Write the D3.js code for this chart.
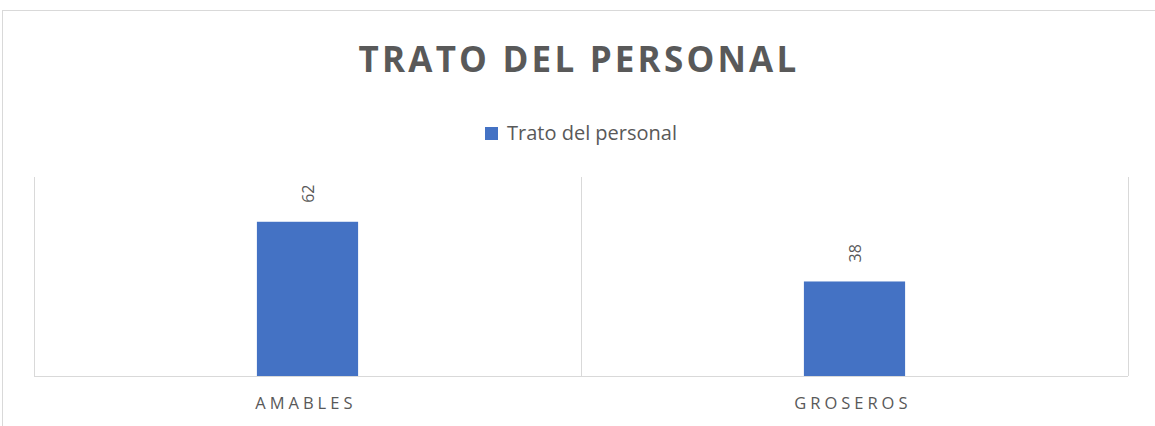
<!DOCTYPE html>
<html>
<head>
<meta charset="utf-8">
<script src="https://cdn.jsdelivr.net/npm/d3@7"></script>
<style>
  body { margin: 0; background: #fff; }
  svg { display: block; font-family: "Open Sans", "Liberation Sans", sans-serif; }
</style>
</head>
<body>
<svg id="chart" width="1155" height="426"></svg>
<script>
// data
let categories = ["AMABLES", "GROSEROS"]
let values = [62, 38]
let seriesName = "Trato del personal"
let chartTitle = "TRATO DEL PERSONAL"

let svg = d3.select("#chart")
let grey = "#595959", lineColor = "#d9d9d9", barColor = "#4472c4"

// outer chart border (runs off the right and bottom edges)
svg.append("rect")
    .attr("x", 2.5).attr("y", 10.5)
    .attr("width", 1170).attr("height", 440)
    .attr("fill", "none").attr("stroke", lineColor)

let plotLeft = 34, plotRight = 1128, plotTop = 177, plotBottom = 376

let x = d3.scaleBand()
    .domain(categories)
    .range([plotLeft, plotRight])
    .paddingInner(0.815)
    .paddingOuter(0.4075)

let y = d3.scaleLinear()
    .domain([0, 80])
    .range([plotBottom, plotTop])

// vertical category gridlines
let step = x.step()
let bounds = d3.range(categories.length + 1).map(i => plotLeft + i * step)
svg.append("g").selectAll("line")
    .data(bounds)
    .enter().append("line")
    .attr("x1", d => d + 0.5).attr("x2", d => d + 0.5)
    .attr("y1", y(80)).attr("y2", y(0))
    .attr("stroke", lineColor).attr("stroke-width", 1)

// bars
svg.append("g").selectAll("rect")
    .data(values)
    .enter().append("rect")
    .attr("x", (d, i) => x(categories[i]))
    .attr("width", x.bandwidth())
    .attr("y", d => y(d))
    .attr("height", d => y(0) - y(d))
    .attr("fill", barColor)

// x axis baseline + labels
let xAxis = svg.append("g")
    .attr("transform", "translate(0," + (plotBottom + 0.5) + ")")
    .call(d3.axisBottom(x).tickSize(0).tickPadding(21))
xAxis.attr("font-family", null).attr("font-size", null)
xAxis.select(".domain").attr("stroke", lineColor).attr("d", "M" + plotLeft + ",0H" + plotRight)
xAxis.selectAll("text")
    .attr("fill", grey)
    .attr("dx", "-0.1em")
    .style("font-size", "16.5px")
    .style("letter-spacing", "4px")

// rotated data labels
svg.append("g").selectAll("text")
    .data(values)
    .enter().append("text")
    .attr("transform", (d, i) => "translate(" + (x(categories[i]) + x.bandwidth() / 2 + 6) + "," + (y(d) - 19) + ") rotate(-90)")
    .attr("text-anchor", "start")
    .attr("fill", grey)
    .style("font-size", "16px")
    .text(d => d)

// title
svg.append("text")
    .attr("x", 579).attr("y", 72)
    .attr("text-anchor", "middle")
    .attr("fill", grey)
    .style("font-size", "35px")
    .style("font-weight", "bold")
    .style("letter-spacing", "3.2px")
    .text(chartTitle)

// legend
let legend = svg.append("g").attr("transform", "translate(485,127)")
legend.append("rect")
    .attr("width", 13).attr("height", 13)
    .attr("fill", barColor)
legend.append("text")
    .attr("x", 22).attr("y", 13)
    .attr("fill", grey)
    .style("font-size", "20px")
    .text(seriesName)
</script>
</body>
</html>
